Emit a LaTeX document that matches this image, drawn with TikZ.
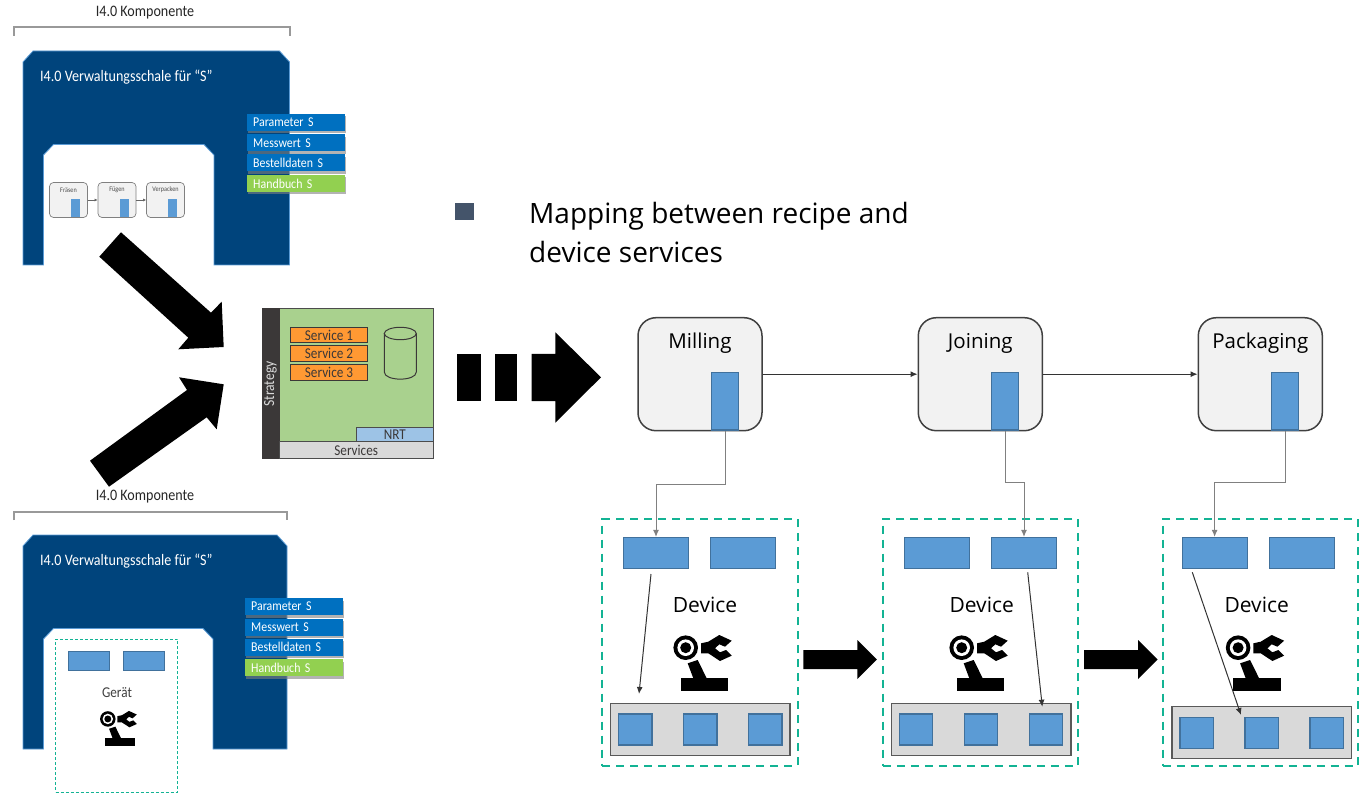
\documentclass[tikz,border=0pt]{standalone}
\usepackage{fontspec}
\setmainfont[FakeStretch=0.88]{Carlito}
\newfontfamily\segoe{Open Sans}
\usetikzlibrary{arrows.meta,shadows}
\newcommand{\fsz}[1]{\fontsize{#1}{#1}\selectfont}
\definecolor{shellblue}{HTML}{00447C}
\definecolor{shelledge}{HTML}{5B9BD5}
\definecolor{tagblue}{HTML}{0070C0}
\definecolor{taggreen}{HTML}{92D050}
\definecolor{portblue}{HTML}{5B9BD5}
\definecolor{portedge}{HTML}{41719C}
\definecolor{boxgrey}{HTML}{F2F2F2}
\definecolor{teal}{HTML}{13B394}
\definecolor{envgreen}{HTML}{A9D18E}
\definecolor{stratgrey}{HTML}{3B3838}
\definecolor{servorange}{HTML}{FF9933}
\definecolor{nrtblue}{HTML}{9DC3E6}
\definecolor{bulletgrey}{HTML}{44546A}
\tikzset{
    tagbox/.style={anchor=west,text=white,font=\fsz{13.5},text width=86pt,inner xsep=6pt,inner ysep=0pt,
        minimum height=17pt,drop shadow={opacity=0.6,shadow xshift=0.5pt,shadow yshift=-2.5pt}},
    port/.style={draw=portedge,fill=portblue,line width=1.2pt,inner sep=0pt},
    procbox/.style={draw=black!75,fill=boxgrey,line width=1.5pt,rounded corners=18pt,inner sep=0pt,
        minimum width=124pt,minimum height=113pt},
    minibox/.style={draw=black!50,fill=boxgrey,line width=0.7pt,rounded corners=4pt,inner sep=0pt,
        minimum width=38pt,minimum height=35pt},
    devbox/.style={draw=teal,line width=2pt,dash pattern=on 8pt off 6pt,inner sep=0pt,
        minimum width=195.5pt,minimum height=246.5pt},
    tray/.style={draw=black!65,fill=black!15,line width=1.5pt,inner sep=0pt,minimum width=179.5pt,minimum height=52pt},
    servbox/.style={draw=stratgrey,fill=servorange,line width=1pt,text=stratgrey,font=\fsz{15},inner sep=0pt,
        minimum width=77pt,minimum height=15.5pt},
    greylink/.style={draw=black!50,line width=1pt,-{Latex[length=7pt,width=6pt]}},
    blacklink/.style={draw=black!80,line width=1pt,-{Latex[length=7pt,width=6pt]}},
    robot/.pic={
        \fill (7.7,44) rectangle (55,56.7);
        \fill (14.4,29) -- (24.4,25.7) -- (33.4,44) -- (20,44) -- cycle;
        \fill (12.4,13.4) circle (12.3);
        \fill [white] (12.4,13.4) circle (8.3);
        \fill (12.4,13.4) circle (5.5);
        \fill (27.7,9) -- (35,7.4) -- (46,0.7) -- (58.4,6.4) -- (51.7,12.4) -- (46,10) -- (41.7,14) -- (46.7,18)
            -- (52.7,15.7) -- (58.4,21.4) -- (46.7,26.7) -- (35,19) -- (27.7,19) -- cycle;
    }
}
\begin{document}
\begin{tikzpicture}[x=1pt,y=-1pt]
    \useasboundingbox (0,0) rectangle (1363,794);

    \foreach \n/\dy/\xr/\xi/\xt in {a/0/289.5/214/247,b/484/287/213/245} {
        \begin{scope}[shift={(0,\dy)}]
            \draw [black!40,line width=2pt] (14,36) -- (14,27.5) -- (\xr,27.5) -- (\xr,36);
            \node (\n-komp) [font=\fsz{16},text=black!85] at (145,13) {I4.0 Komponente};
            \draw [fill=shellblue,draw=shelledge,line width=0.8pt] (23,265) -- (23,62) -- (33,51) -- (\xr-10,51)
                -- (\xr,62) -- (\xr,265) -- (\xi,265) -- (\xi,155) -- (\xi-10,144.5) -- (53.5,144.5) -- (43.5,155)
                -- (43.5,265) -- cycle;
            \node (\n-title) [anchor=west,inner sep=0pt,text=white,font=\fsz{16}] at (40,77) {I4.0 Verwaltungsschale für “S”};
            \foreach \lab/\y/\col/\k in {Parameter S/122.5/tagblue/1,Messwert S/143/tagblue/2,
                Bestelldaten S/163/tagblue/3,Handbuch S/183.5/taggreen/4} {
                \node (\n-tag\k) [tagbox,fill=\col] at (\xt,\y) {\lab};
            }
        \end{scope}
    }

    \foreach \n/\x/\lab in {fr/68.5/Fräsen,fu/117/Fügen,ve/165.5/Verpacken} {
        \node (\n) [minibox] at (\x,200) {};
        \node (\n-t) [font=\fsz{7},text=black!70,inner sep=0pt] at (\x,190) {\lab};
        \node (\n-p) [port,draw=none,minimum width=9pt,minimum height=18pt] at (\x+7,208) {};
    }
    \draw [black!60,line width=0.6pt,-{Latex[length=3pt,width=3pt]}] (fr) -- (fu);
    \draw [black!60,line width=0.6pt,-{Latex[length=3pt,width=3pt]}] (fu) -- (ve);

    \node (geraet) [draw=teal,line width=0.8pt,dash pattern=on 3pt off 2pt,fill=white,inner sep=0pt,
        minimum width=122pt,minimum height=153pt] at (116.5,715.7) {};
    \node (ga) [port,line width=0.7pt,minimum width=40.5pt,minimum height=19pt] at (89,660.5) {};
    \node (gb) [port,line width=0.7pt,minimum width=41pt,minimum height=19pt] at (143.5,660.5) {};
    \node (gtext) [font=\fsz{15},text=black!75,inner sep=0pt] at (117,693) {Gerät};
    \pic (grobot) [scale=0.63] at (100,710.5) {robot};

    \fill (99.3,256.7) -- (121,232.3) -- (211,312.7) -- (221.7,301.7) -- (223.7,347) -- (178.3,349.3) -- (188.3,337.7) -- cycle;
    \fill (90,460.7) -- (109,486.7) -- (206.7,417.3) -- (216.7,429.3) -- (223.7,384.3) -- (179,377.3) -- (187,390) -- cycle;

    \node (env) [draw=black!70,fill=envgreen,line width=0.8pt,inner sep=0pt,minimum width=154.5pt,minimum height=150pt] at (356.2,383.3) {};
    \node (strat) [fill=stratgrey,inner sep=0pt,minimum width=18pt,minimum height=150.5pt] at (270.5,383.3) {};
    \node (strattext) [rotate=90,text=black!15,font=\fsz{15.5},inner sep=0pt] at (270.5,384) {Strategy};
    \node (nrt) [draw=black!70,fill=nrtblue,line width=0.8pt,inner sep=0pt,text=stratgrey,font=\fsz{15},
        minimum width=77pt,minimum height=14.5pt] at (394.8,434.5) {NRT};
    \node (serv) [draw=black!70,fill=black!15,line width=0.8pt,inner sep=0pt,text=stratgrey,font=\fsz{15},
        minimum width=154.5pt,minimum height=16.5pt] at (356.2,450) {Services};
    \foreach \k/\y in {1/335,2/353.6,3/372.3} {
        \node (serv\k) [servbox] at (329,\y) {Service \k};
    }
    \draw [stratgrey,line width=1pt] (400.3,333.5) ellipse [x radius=16,y radius=6.2];
    \draw [stratgrey,line width=1pt] (384.3,333.5) -- (384.3,372) .. controls (384.3,381.5) and (416.3,381.5) .. (416.3,372) -- (416.3,333.5);

    \fill (457,354) rectangle (480.7,401);
    \fill (495.3,354) rectangle (516.7,401);
    \fill (531.7,354) -- (555.3,354) -- (555.3,332.3) -- (601,377.3) -- (555.3,422.7) -- (555.3,401) -- (531.7,401) -- cycle;

    \node (bullet) [fill=bulletgrey,inner sep=0pt,minimum width=19pt,minimum height=17pt] at (464.5,211.5) {};
    \node (map1) [anchor=base west,inner sep=0pt,font=\segoe\fsz{28}] at (529,224) {Mapping between recipe and};
    \node (map2) [anchor=base west,inner sep=0pt,font=\segoe\fsz{28}] at (529,263) {device services};

    \foreach \n/\x/\lab in {mill/700/Milling,join/980.3/Joining,pack/1260.3/Packaging} {
        \node (\n) [procbox] at (\x,374.2) {};
        \node (\n-t) [anchor=base,inner sep=0pt,font=\segoe\fsz{20.5}] at (\x,348.5) {\lab};
        \node (\n-p) [port,minimum width=27pt,minimum height=57.5pt] at (\x+25,401.3) {};
    }
    \draw [blacklink] (mill) -- (join);
    \draw [blacklink] (join) -- (pack);

    \foreach \n/\bx/\ra/\rb/\tx/\rx/\yx/\yy in {d1/700.2/656/743/705/673.3/700.3/729.5,
        d2/980.5/936.6/1024/981.7/949.3/981/729.5,d3/1260.3/1214.6/1302/1256.7/1225.7/1261.8/732.6} {
        \node (\n) [devbox] at (\bx,642.4) {};
        \node (\n-a) [port,minimum width=65pt,minimum height=31pt] at (\ra,553) {};
        \node (\n-b) [port,minimum width=65pt,minimum height=31pt] at (\rb,553) {};
        \node (\n-t) [inner sep=0pt,font=\segoe\fsz{21}] at (\tx,604.5) {Device};
        \pic (\n-robot) at (\rx,634.3) {robot};
        \node (\n-tray) [tray] at (\yx,\yy) {};
        \foreach \k/\dx in {1/-65,2/0,3/65} {
            \node (\n-s\k) [port,minimum width=33.5pt,minimum height=31pt] at (\yx+\dx,\yy) {};
        }
    }

    \foreach \x in {803.3,1084} {
        \fill (\x,650) -- (\x+54,650) -- (\x+54,640) -- (\x+73.5,659.5) -- (\x+54,679) -- (\x+54,669) -- (\x,669) -- cycle;
    }

    \coordinate (m1) at (656,484);
    \coordinate (j1) at (1024,482.7);
    \coordinate (p1) at (1214.6,482);
    \draw [greylink] (mill-p.south) |- (m1) -- (d1-a.north);
    \draw [greylink] (join-p.south) |- (j1) -- (d2-b.north);
    \draw [greylink] (pack-p.south) |- (p1) -- (d3-a.north);

    \coordinate (l1a) at (651,574);
    \coordinate (l1b) at (639,694);
    \coordinate (l2a) at (1027.7,572.3);
    \coordinate (l2b) at (1042.3,706.7);
    \coordinate (l3a) at (1192.3,572.3);
    \coordinate (l3b) at (1241,715);
    \draw [blacklink] (l1a) -- (l1b);
    \draw [blacklink] (l2a) -- (l2b);
    \draw [blacklink] (l3a) -- (l3b);
\end{tikzpicture}
\end{document}
